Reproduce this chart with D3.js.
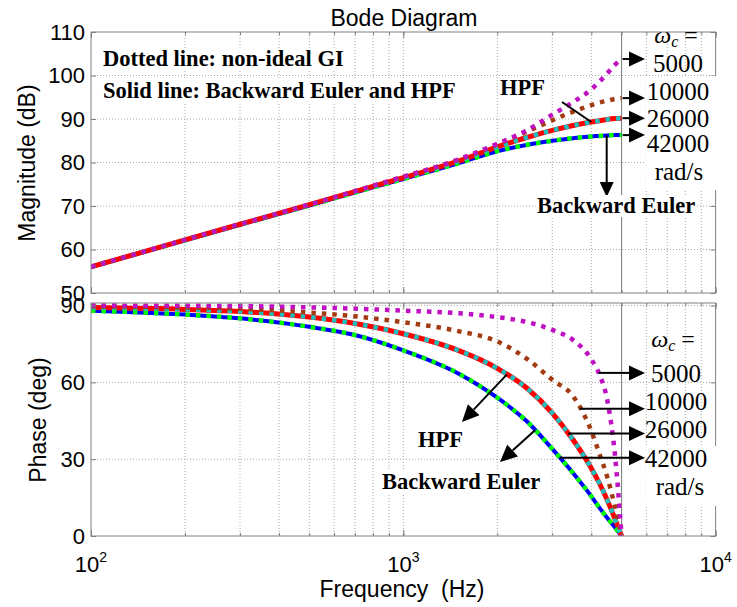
<!DOCTYPE html>
<html>
<head>
<meta charset="utf-8">
<script src="https://cdn.jsdelivr.net/npm/d3@7"></script>
<style>
  body { margin: 0; background: #fff; }
  svg { display: block; }
</style>
</head>
<body>
<svg id="chart" width="737" height="607"></svg>
<script>
// Frequency grid (Hz) shared by every response below
const freqs = [100, 200, 300, 500, 700, 1000, 1500, 2000, 2500, 3000, 3500, 4000, 4250, 4500, 4750, 5000];

// Magnitude (dB)
const magBackwardEuler = [56.0, 62.1, 65.7, 70.1, 73.1, 76.2, 79.8, 82.6, 84.1, 85.0, 85.6, 86.0, 86.1, 86.2, 86.3, 86.3];
const magHPF           = [56.0, 62.2, 65.8, 70.3, 73.3, 76.5, 80.3, 83.6, 85.8, 87.4, 88.5, 89.3, 89.6, 89.9, 90.1, 90.2];
const magGI42000       = [56.0, 62.1, 65.7, 70.1, 73.1, 76.2, 79.8, 82.6, 84.1, 85.0, 85.6, 86.0, 86.1, 86.2, 86.3, 86.3];
const magGI26000       = [56.0, 62.2, 65.8, 70.3, 73.3, 76.5, 80.3, 83.6, 85.8, 87.4, 88.5, 89.3, 89.6, 89.9, 90.1, 90.2];
const magGI10000       = [56.0, 62.2, 65.8, 70.3, 73.4, 76.7, 80.6, 84.2, 87.2, 89.7, 91.7, 93.2, 93.8, 94.2, 94.6, 94.8];
const magGI5000        = [56.0, 62.2, 65.8, 70.3, 73.4, 76.7, 80.7, 84.3, 87.5, 91.0, 93.9, 96.8, 98.6, 100.5, 102.4, 103.8];

// Phase (deg)
const phaseBackwardEuler = [88.0, 86.5, 85.0, 81.7, 78.5, 72.5, 63.5, 54.0, 44.5, 34.0, 24.5, 15.5, 11.0, 7.0, 3.5, 0];
const phaseHPF           = [89.2, 88.5, 87.7, 85.5, 83.0, 79.0, 72.5, 65.5, 57.5, 48.0, 37.5, 26.5, 20.5, 14.0, 7.0, 0];
const phaseGI42000       = [88.0, 86.5, 85.0, 81.7, 78.5, 72.5, 63.5, 54.0, 44.5, 34.0, 24.5, 15.5, 11.0, 7.0, 3.5, 0];
const phaseGI26000       = [89.2, 88.5, 87.7, 85.5, 83.0, 79.0, 72.5, 65.5, 57.5, 48.0, 37.5, 26.5, 20.5, 14.0, 7.0, 0];
const phaseGI10000       = [89.7, 89.3, 88.8, 87.3, 85.8, 83.5, 80.0, 76.0, 69.0, 61.0, 54.5, 41.0, 32.0, 23.0, 12.0, 0];
const phaseGI5000        = [90.0, 89.9, 89.8, 89.3, 88.8, 88.0, 87.0, 85.5, 83.5, 80.5, 76.5, 69.0, 63.0, 53.0, 33.0, 0];

// Ticks and labels
const magTicks = [50, 60, 70, 80, 90, 100, 110];
const phaseTicks = [0, 30, 60, 90];
const freqDecades = [100, 1000, 10000];
const decadeExponents = ["2", "3", "4"];
const nyquistHz = 5000;
const cutoffLabels = ["5000", "10000", "26000", "42000"];
// Frequencies where the phase call-out arrows leave each dotted curve
const phaseCalloutHz = [4220, 3670, 3370, 3170];

const SANS = "'Liberation Sans', Arial, sans-serif";
const SERIF = "'Liberation Serif', 'Times New Roman', serif";

const svg = d3.select("#chart");

const x = d3.scaleLog().domain([100, 10000]).range([91, 715.6]);
const yMag = d3.scaleLinear().domain([50, 110]).range([293, 32]);
const yPh = d3.scaleLinear().domain([0, 91]).range([536, 303]);

const panels = [
  { y: yMag, ticks: magTicks, id: "mag" },
  { y: yPh, ticks: phaseTicks, id: "ph" }
];

// linear interpolation in log-frequency, used to anchor call-outs on a curve
function valueAt(values, f) {
  const lf = Math.log10(f);
  for (let i = 0; i < freqs.length - 1; i++) {
    const a = Math.log10(freqs[i]), b = Math.log10(freqs[i + 1]);
    if (lf >= a && lf <= b) {
      const t = (lf - a) / (b - a);
      return values[i] + t * (values[i + 1] - values[i]);
    }
  }
  return values[values.length - 1];
}

// ---- clip paths
const defs = svg.append("defs");
panels.forEach(p => {
  const [b, t] = p.y.range();
  defs.append("clipPath").attr("id", "clip-" + p.id)
    .append("rect").attr("x", x.range()[0]).attr("y", t)
    .attr("width", x.range()[1] - x.range()[0]).attr("height", b - t);
});

// ---- backgrounds and grids
panels.forEach(p => {
  const [b, t] = p.y.range();
  const g = svg.append("g");
  g.append("rect").attr("x", x.range()[0]).attr("y", t)
    .attr("width", x.range()[1] - x.range()[0]).attr("height", b - t).attr("fill", "#fff");
  g.selectAll("line.vx").data(x.ticks().filter(f => f > 100 && f < 10000)).join("line")
    .attr("x1", d => x(d)).attr("x2", d => x(d)).attr("y1", t).attr("y2", b)
    .attr("stroke", "#a8a8a8").attr("stroke-width", 1).attr("stroke-dasharray", "1,2");
  g.selectAll("line.hy").data(p.ticks.filter(v => p.y(v) > t + 1 && p.y(v) < b - 1)).join("line")
    .attr("x1", x.range()[0]).attr("x2", x.range()[1]).attr("y1", d => p.y(d)).attr("y2", d => p.y(d))
    .attr("stroke", "#a8a8a8").attr("stroke-width", 1).attr("stroke-dasharray", "1,2");
  // Nyquist frequency marker
  g.append("line").attr("x1", x(nyquistHz)).attr("x2", x(nyquistHz)).attr("y1", t).attr("y2", b)
    .attr("stroke", "#7a7a7a").attr("stroke-width", 1);
});

// ---- curves
const styles = [
  { color: "#0000ff", width: 4, dash: null },      // Backward Euler
  { color: "#ff0000", width: 5, dash: null },      // HPF
  { color: "#00ff00", width: 4.5, dash: "4.5,6" }, // non-ideal GI 42000
  { color: "#1fbfbf", width: 4.5, dash: "4.5,6" }, // non-ideal GI 26000
  { color: "#a33b12", width: 4.5, dash: "4.5,6" }, // non-ideal GI 10000
  { color: "#bf10c4", width: 4.5, dash: "4.5,6" }  // non-ideal GI 5000
];
const magData = [magBackwardEuler, magHPF, magGI42000, magGI26000, magGI10000, magGI5000];
const phaseData = [phaseBackwardEuler, phaseHPF, phaseGI42000, phaseGI26000, phaseGI10000, phaseGI5000];

function drawCurves(data, y, id) {
  const line = d3.line().x((d, i) => x(freqs[i])).y(d => y(d)).curve(d3.curveMonotoneX);
  const g = svg.append("g").attr("clip-path", `url(#clip-${id})`);
  data.forEach((vals, k) => {
    const s = styles[k];
    g.append("path").attr("d", line(vals)).attr("fill", "none")
      .attr("stroke", s.color).attr("stroke-width", s.width)
      .attr("stroke-dasharray", s.dash).attr("stroke-linecap", "butt")
      .attr("stroke-linejoin", "round");
  });
}
drawCurves(magData, yMag, "mag");
drawCurves(phaseData, yPh, "ph");

// ---- axes (ticks inward on all four sides)
const frameColor = "#808080";
function styleAxis(g) {
  g.select(".domain").remove();
  g.selectAll(".tick line").attr("stroke", frameColor);
  g.selectAll(".tick text").attr("font-family", SANS).attr("font-size", 22).attr("fill", "#000");
}
panels.forEach(p => {
  const [b, t] = p.y.range();
  svg.append("g").attr("transform", `translate(${x.range()[0]},0)`)
    .call(d3.axisLeft(p.y).tickValues(p.ticks).tickSizeInner(-5).tickSizeOuter(0).tickPadding(6))
    .call(styleAxis);
  svg.append("g").attr("transform", `translate(${x.range()[1]},0)`)
    .call(d3.axisRight(p.y).tickValues(p.ticks).tickSizeInner(-5).tickSizeOuter(0).tickFormat(""))
    .call(styleAxis);
  [[d3.axisBottom, b], [d3.axisTop, t]].forEach(([ax, yy]) => {
    svg.append("g").attr("transform", `translate(0,${yy})`)
      .call(ax(x).tickValues(x.ticks()).tickSizeInner(-3).tickSizeOuter(0).tickFormat(""))
      .call(styleAxis);
    svg.append("g").attr("transform", `translate(0,${yy})`)
      .call(ax(x).tickValues(freqDecades).tickSizeInner(-6).tickSizeOuter(0).tickFormat(""))
      .call(styleAxis);
  });
  svg.append("rect").attr("x", x.range()[0]).attr("y", t)
    .attr("width", x.range()[1] - x.range()[0]).attr("height", b - t)
    .attr("fill", "none").attr("stroke", frameColor).attr("stroke-width", 1);
});

// decade labels 10^n
freqDecades.forEach((f, i) => {
  const tx = svg.append("text").attr("x", x(f)).attr("y", 572)
    .attr("text-anchor", "middle").attr("font-family", SANS).attr("font-size", 22).attr("fill", "#000");
  tx.append("tspan").text("10");
  tx.append("tspan").attr("font-size", 14).attr("dy", -10).text(decadeExponents[i]);
});

// titles
svg.append("text").attr("x", 404).attr("y", 26).attr("text-anchor", "middle")
  .attr("font-family", SANS).attr("font-size", 23).text("Bode Diagram");
svg.append("text").attr("transform", "translate(35,163) rotate(-90)").attr("text-anchor", "middle")
  .attr("font-family", SANS).attr("font-size", 23).text("Magnitude (dB)");
svg.append("text").attr("transform", "translate(46,420) rotate(-90)").attr("text-anchor", "middle")
  .attr("font-family", SANS).attr("font-size", 23).text("Phase (deg)");
svg.append("text").attr("x", 402).attr("y", 597).attr("text-anchor", "middle")
  .attr("font-family", SANS).attr("font-size", 23).style("white-space", "pre").text("Frequency  (Hz)");

// ---- annotations
const ann = svg.append("g");

// white panels behind the call-out text columns
ann.append("rect").attr("x", 646).attr("y", 76).attr("width", 74).attr("height", 114).attr("fill", "#fff");
ann.append("rect").attr("x", 646).attr("y", 446).attr("width", 74).attr("height", 60).attr("fill", "#fff");

function boxed(textSel, pad = 1) {
  const bb = textSel.node().getBBox();
  ann.insert("rect", () => textSel.node())
    .attr("x", bb.x - pad).attr("y", bb.y + 2).attr("width", bb.width + 2 * pad).attr("height", bb.height - 3)
    .attr("fill", "#fff");
  return textSel;
}
function boldLabel(tx, ty, str) {
  return boxed(ann.append("text").attr("x", tx).attr("y", ty)
    .attr("font-family", SERIF).attr("font-weight", "bold").attr("font-size", 22.5).attr("fill", "#000").text(str));
}
function arrow(x1, y1, x2, y2, len = 16, half = 7.5) {
  const a = Math.atan2(y2 - y1, x2 - x1);
  const bx = x2 - len * Math.cos(a), by = y2 - len * Math.sin(a);
  ann.append("line").attr("x1", x1).attr("y1", y1).attr("x2", bx).attr("y2", by)
    .attr("stroke", "#000").attr("stroke-width", 2);
  const px = -Math.sin(a) * half, py = Math.cos(a) * half;
  ann.append("path").attr("d", `M${x2},${y2}L${bx + px},${by + py}L${bx - px},${by - py}Z`).attr("fill", "#000");
}
function omegaLabel(cx, by) {
  const t = ann.append("text").attr("x", cx).attr("y", by).attr("text-anchor", "middle")
    .attr("font-family", SERIF).attr("font-size", 24).attr("fill", "#000");
  t.append("tspan").attr("font-style", "italic").text("ω");
  t.append("tspan").attr("font-style", "italic").attr("font-size", 16).attr("dy", 4).text("c");
  t.append("tspan").attr("dy", -4).text(" =");
}

boldLabel(103, 66, "Dotted line: non-ideal GI");
boldLabel(103, 98, "Solid line: Backward Euler and HPF");

// magnitude call-outs
boldLabel(500, 95, "HPF");
ann.append("line").attr("x1", 562).attr("y1", 102)
  .attr("x2", x(4000)).attr("y2", yMag(valueAt(magHPF, 4000)))
  .attr("stroke", "#000").attr("stroke-width", 2);
arrow(x(4480), yMag(valueAt(magBackwardEuler, 4480)), x(4480), 197, 15, 7);
boldLabel(537, 213, "Backward Euler");

omegaLabel(676, 43);
const magEnds = [magGI5000, magGI10000, magGI26000, magGI42000].map(v => v[v.length - 1]);
magEnds.forEach(v => arrow(x(nyquistHz) + 1, yMag(v), 645, yMag(v)));
const magTextBase = [72, 100, 127, 152];
cutoffLabels.forEach((s, i) => {
  ann.append("text").attr("x", 678).attr("y", magTextBase[i]).attr("text-anchor", "middle")
    .attr("font-family", SERIF).attr("font-size", 25).attr("fill", "#000").text(s);
});
ann.append("text").attr("x", 679).attr("y", 180).attr("text-anchor", "middle")
  .attr("font-family", SERIF).attr("font-size", 25).attr("fill", "#000").text("rad/s");

// phase call-outs
const phaseDotted = [phaseGI5000, phaseGI10000, phaseGI26000, phaseGI42000];
phaseDotted.forEach((vals, i) => {
  const f = phaseCalloutHz[i];
  const yy = yPh(valueAt(vals, f));
  arrow(x(f), yy, 645, yy);
});
omegaLabel(673, 347);
const phTextBase = [382, 410, 438, 467];
cutoffLabels.forEach((s, i) => {
  ann.append("text").attr("x", 676).attr("y", phTextBase[i]).attr("text-anchor", "middle")
    .attr("font-family", SERIF).attr("font-size", 25).attr("fill", "#000").text(s);
});
ann.append("text").attr("x", 680).attr("y", 495).attr("text-anchor", "middle")
  .attr("font-family", SERIF).attr("font-size", 25).attr("fill", "#000").text("rad/s");

arrow(x(2144), yPh(valueAt(phaseHPF, 2144)), 462, 422, 17, 8);
boldLabel(418, 447, "HPF");
arrow(x(2641), yPh(valueAt(phaseBackwardEuler, 2641)), 500, 462, 17, 8);
boldLabel(382, 489, "Backward Euler");
</script>
</body>
</html>
